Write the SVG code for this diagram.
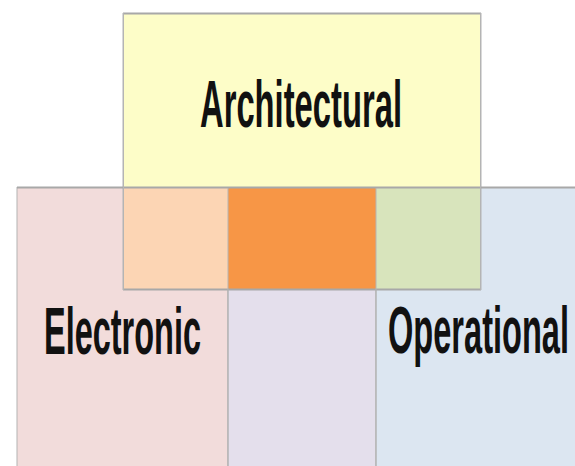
<svg xmlns="http://www.w3.org/2000/svg" width="575" height="466" viewBox="0 0 575 466">
  <style>
    .box { stroke: #b4b4b4; stroke-width: 1; }
    .lbl { font-family: "Liberation Sans", Arial, sans-serif; font-weight: bold; font-size: 66px; fill: #111111; }
    .edge { stroke: #a8a8a8; stroke-width: 2; fill: none; }
    .vline { stroke: #b4b4b4; stroke-width: 1; }
  </style>
  <rect x="0" y="0" width="575" height="466" fill="#ffffff"/>
  <g id="electronic">
    <rect class="box" x="17" y="187.5" width="211" height="290" fill="#F2DCDB"/>
    <text class="lbl" x="44" y="354" textLength="157" lengthAdjust="spacingAndGlyphs">Electronic</text>
  </g>
  <g id="electronic-operational">
    <rect class="box" x="228" y="187.5" width="148" height="290" fill="#E4DFEC"/>
  </g>
  <g id="operational">
    <rect class="box" x="376" y="187.5" width="210" height="290" fill="#DCE6F1"/>
    <text class="lbl" x="388" y="353" textLength="181" lengthAdjust="spacingAndGlyphs">Operational</text>
  </g>
  <g id="architectural">
    <rect class="box" x="123" y="13.5" width="358" height="276" fill="#FDFDC8"/>
    <line class="edge" x1="123" y1="13.5" x2="481" y2="13.5"/>
    <text class="lbl" x="200" y="127" textLength="202" lengthAdjust="spacingAndGlyphs">Architectural</text>
  </g>
  <g id="architectural-electronic">
    <rect x="123" y="187.5" width="105" height="102" fill="#FCD5B4"/>
  </g>
  <g id="all-three">
    <rect x="228" y="187.5" width="148" height="102" fill="#F79646"/>
  </g>
  <g id="architectural-operational">
    <rect x="376" y="187.5" width="105" height="102" fill="#D8E4BC"/>
  </g>
  <g id="edges">
    <line class="edge" x1="17" y1="187.5" x2="575" y2="187.5"/>
    <line class="edge" x1="123" y1="289.5" x2="481" y2="289.5"/>
    <line class="vline" x1="123.5" y1="13" x2="123.5" y2="290"/>
    <line class="vline" x1="480.5" y1="13" x2="480.5" y2="290"/>
    <line class="vline" x1="228" y1="188" x2="228" y2="466"/>
    <line class="vline" x1="376" y1="188" x2="376" y2="466"/>
  </g>
</svg>
